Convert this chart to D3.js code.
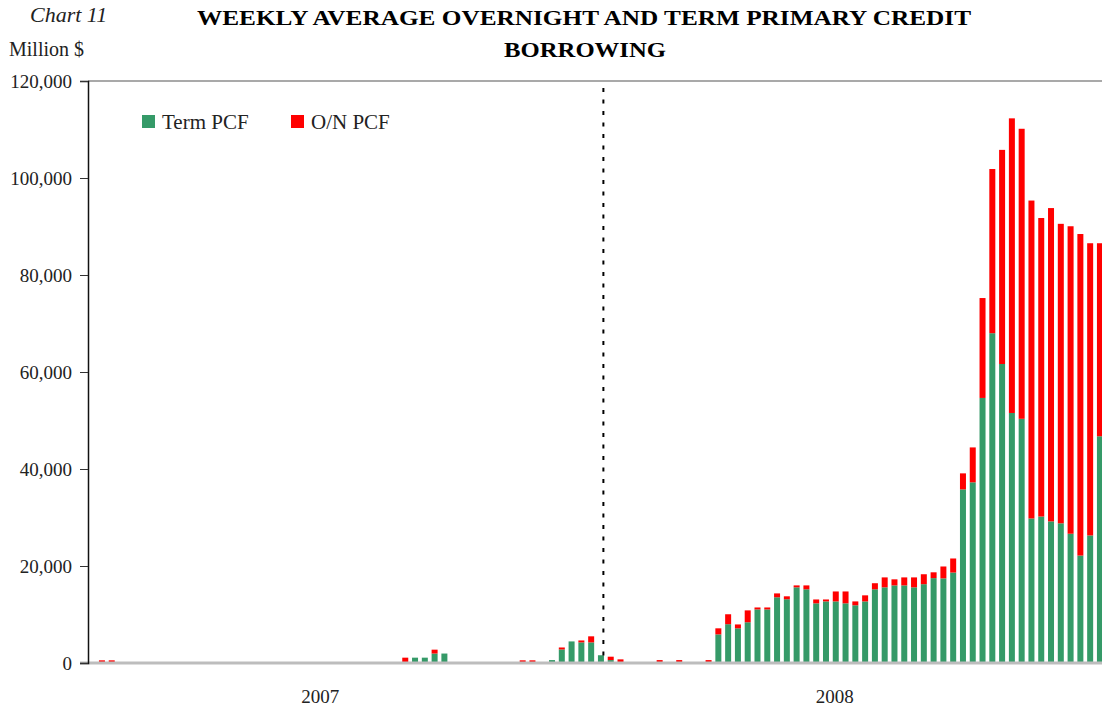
<!DOCTYPE html>
<meta charset="utf-8">
<style>

  body { margin: 0; background: #fff; }

  text {
    font-family: "Liberation Serif", "DejaVu Serif", serif;
    fill: #222;
  }

</style>
<svg width="1102" height="708"></svg>
<script src="https://d3js.org/d3.v7.min.js"></script>
<script>

// weekly averages, million $, week 0 = first week of 2007
var termPCF = [
  0, 0, 0, 0, 0, 0, 0, 0, 0, 0,
  0, 0, 0, 0, 0, 0, 0, 0, 0, 0,
  0, 0, 0, 0, 0, 0, 0, 0, 0, 0,
  0, 0, 0, 1100, 1100, 1950, 1950, 0, 0, 0,
  0, 0, 0, 0, 0, 0, 0, 600, 2800, 4450,
  4250, 4250, 1600, 600, 0, 0, 0, 0, 0, 0,
  0, 0, 0, 0, 5900, 8000, 7150, 8400, 11050, 11050,
  13550, 13150, 15600, 15200, 12300, 12700, 12700, 12300, 11900, 12700,
  15200, 15600, 16000, 16000, 15600, 16250, 17500, 17450, 18650, 35800,
  37250, 54650, 68000, 61650, 51550, 50350, 29800, 30200, 29200, 28800,
  26650, 22150, 26300, 46750
];

var overnightPCF = [
  0, 550, 550, 0, 0, 0, 0, 0, 0, 0,
  0, 0, 0, 0, 0, 0, 0, 0, 0, 0,
  0, 0, 0, 0, 0, 0, 0, 0, 0, 0,
  0, 0, 1100, 0, 0, 800, 0, 0, 0, 0,
  0, 0, 0, 0, 550, 550, 0, 0, 400, 0,
  400, 1250, 0, 700, 750, 0, 0, 0, 600, 0,
  600, 0, 0, 600, 1250, 2050, 800, 2450, 400, 400,
  800, 600, 400, 800, 800, 400, 2050, 2450, 800, 1250,
  1250, 2050, 1250, 1650, 2050, 2050, 1200, 2450, 2900, 3300,
  7200, 20600, 33850, 44150, 60750, 59800, 65550, 61550, 64600, 61750,
  63400, 66300, 60250, 39800
];

var yTicks = [0, 20000, 40000, 60000, 80000, 100000, 120000];
var yearLabels = ["2007", "2008"];
var yearLabelWeek = [23.8, 76.4];
var markerWeek = 52.75;
var seriesNames = ["Term PCF", "O/N PCF"];
var colors = ["#359a68", "#ff0000"];

var weeks = d3.range(termPCF.length);
var data = weeks.map(function(i) {
  return { week: i, term: termPCF[i], on: overnightPCF[i] };
});

var svg = d3.select("svg");
var plotLeft = 88, plotTop = 81, plotBottom = 663;

var x = d3.scaleBand()
  .domain(weeks)
  .range([87.3, 1104.8])
  .paddingInner(0.387)
  .paddingOuter(0.19);

var xLin = d3.scaleLinear()
  .domain([0, weeks.length])
  .range([87.3, 1104.8]);

var y = d3.scaleLinear()
  .domain([0, 120000])
  .range([plotBottom, plotTop]);

var stack = d3.stack().keys(["term", "on"]);
var layers = stack(data);

// top frame line
svg.append("line")
  .attr("x1", plotLeft).attr("x2", 1102)
  .attr("y1", plotTop).attr("y2", plotTop)
  .attr("stroke", "#8c8c8c")
  .attr("stroke-width", 1.5);

svg.selectAll(".layer")
  .data(layers)
  .enter().append("g")
  .attr("class", "layer")
  .attr("fill", function(d, i) { return colors[i]; })
  .selectAll("rect")
  .data(function(d) { return d.filter(function(p) { return p[1] - p[0] > 0; }); })
  .enter().append("rect")
  .attr("x", function(d) { return x(d.data.week); })
  .attr("width", x.bandwidth())
  .attr("y", function(d) { return y(d[1]); })
  .attr("height", function(d) { return y(d[0]) - y(d[1]); });

// dotted marker
svg.append("line")
  .attr("x1", xLin(markerWeek)).attr("x2", xLin(markerWeek))
  .attr("y1", 88).attr("y2", plotBottom)
  .attr("stroke", "#000")
  .attr("stroke-width", 2)
  .attr("stroke-dasharray", "4,7.5");

// baseline
svg.append("line")
  .attr("x1", 80).attr("x2", 1102)
  .attr("y1", plotBottom).attr("y2", plotBottom)
  .attr("stroke", "#bdbdbd")
  .attr("stroke-width", 3);

var yAxis = svg.append("g")
  .attr("transform", "translate(" + plotLeft + ",0)")
  .call(d3.axisLeft(y)
    .tickValues(yTicks)
    .tickSize(8)
    .tickPadding(8)
    .tickFormat(d3.format(",")));

yAxis.select(".domain").attr("stroke", "#111").attr("stroke-width", 1.5);
yAxis.selectAll(".tick line").attr("stroke", "#333");
yAxis.selectAll(".tick text")
  .attr("font-family", "Liberation Serif, serif")
  .attr("font-size", 19)
  .attr("fill", "#222");

svg.selectAll(".year")
  .data(yearLabels)
  .enter().append("text")
  .attr("class", "year")
  .attr("x", function(d, i) { return xLin(yearLabelWeek[i]); })
  .attr("y", 703)
  .attr("text-anchor", "middle")
  .style("font-size", "19px")
  .text(function(d) { return d; });

// titles
svg.append("text")
  .attr("x", 30).attr("y", 22)
  .style("font-size", "22px")
  .style("font-style", "italic")
  .text("Chart 11");

svg.append("text")
  .attr("x", 9).attr("y", 56)
  .style("font-size", "20px")
  .text("Million $");

var title = svg.append("text")
  .attr("text-anchor", "middle")
  .style("font-size", "22px")
  .style("font-weight", "bold")
  .style("fill", "#000");

title.append("tspan")
  .attr("x", 584).attr("y", 25)
  .attr("textLength", 774)
  .attr("lengthAdjust", "spacingAndGlyphs")
  .text("WEEKLY AVERAGE OVERNIGHT AND TERM PRIMARY CREDIT");

title.append("tspan")
  .attr("x", 585).attr("y", 57)
  .attr("textLength", 162)
  .attr("lengthAdjust", "spacingAndGlyphs")
  .text("BORROWING");

// legend
var legend = svg.selectAll(".legend")
  .data(seriesNames)
  .enter().append("g")
  .attr("class", "legend")
  .attr("transform", function(d, i) { return "translate(" + (142 + i * 149) + ",115)"; });

legend.append("rect")
  .attr("width", 13)
  .attr("height", 13)
  .attr("fill", function(d, i) { return colors[i]; });

legend.append("text")
  .attr("x", 20)
  .attr("y", 14)
  .style("font-size", "21px")
  .text(function(d) { return d; });

</script>
